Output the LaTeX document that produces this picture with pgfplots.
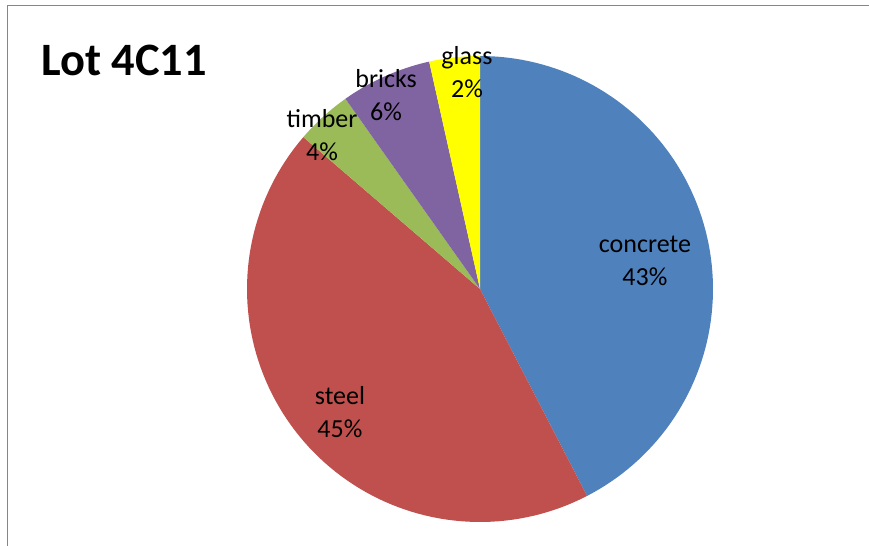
\documentclass[border=0pt]{standalone}
\usepackage{pgfplots}
\pgfplotsset{compat=1.18}
\usepackage{fontspec}
\setmainfont{Carlito}
\definecolor{cConcrete}{HTML}{4F81BD}
\definecolor{cSteel}{HTML}{C0504D}
\definecolor{cTimber}{HTML}{9BBB59}
\definecolor{cBricks}{HTML}{8064A2}
\definecolor{cGlass}{HTML}{FFFF00}
\definecolor{frameGray}{HTML}{868686}
\tikzset{slicelabel/.style={align=center, inner sep=0pt, font=\fontsize{13pt}{16.5pt}\selectfont}}
% slice sizes (percent of the whole, read from the wedges)
\def\vConcrete{42.4}
\def\vSteel{43.9}
\def\vTimber{3.9}
\def\vBricks{6.3}
\def\vGlass{3.5}
\pgfmathsetmacro\aA{90}
\pgfmathsetmacro\aB{\aA-3.6*\vConcrete}
\pgfmathsetmacro\aC{\aB-3.6*\vSteel}
\pgfmathsetmacro\aD{\aC-3.6*\vTimber}
\pgfmathsetmacro\aE{\aD-3.6*\vBricks}
\pgfmathsetmacro\aF{\aE-3.6*\vGlass}
\begin{document}
\begin{tikzpicture}
\path[use as bounding box] (0,0) rectangle (434.5pt,273pt);
\draw[color=frameGray, line width=0.8pt] (3.75pt,-10pt) rectangle (445pt,270.25pt);
\begin{axis}[at={(240pt,128.5pt)}, anchor=center, scale only axis,
  width=233pt, height=233pt, xmin=-1, xmax=1, ymin=-1, ymax=1,
  hide axis, clip=false]
\addplot[fill=cConcrete, draw=none, domain=\aB:\aA, samples=90, variable=\t] ({cos(\t)},{sin(\t)}) -- (0,0) -- cycle;
\addplot[fill=cSteel, draw=none, domain=\aC:\aB, samples=90, variable=\t] ({cos(\t)},{sin(\t)}) -- (0,0) -- cycle;
\addplot[fill=cTimber, draw=none, domain=\aD:\aC, samples=20, variable=\t] ({cos(\t)},{sin(\t)}) -- (0,0) -- cycle;
\addplot[fill=cBricks, draw=none, domain=\aE:\aD, samples=20, variable=\t] ({cos(\t)},{sin(\t)}) -- (0,0) -- cycle;
\addplot[fill=cGlass, draw=none, domain=\aF:\aE, samples=20, variable=\t] ({cos(\t)},{sin(\t)}) -- (0,0) -- cycle;
\node[slicelabel] at (axis cs:0.708,0.120) {concrete\\43\%};
\node[slicelabel] at (axis cs:-0.601,-0.528) {steel\\45\%};
\node[slicelabel] at (axis cs:-0.678,0.661) {timber\\4\%};
\node[slicelabel] at (axis cs:-0.403,0.833) {bricks\\6\%};
\node[slicelabel] at (axis cs:-0.056,0.931) {glass\\2\%};
\end{axis}
\node[anchor=base west, inner sep=0pt, font=\fontsize{23.2pt}{28pt}\selectfont\bfseries] at (20.5pt,235pt) {Lot 4C11};
\end{tikzpicture}
\end{document}
